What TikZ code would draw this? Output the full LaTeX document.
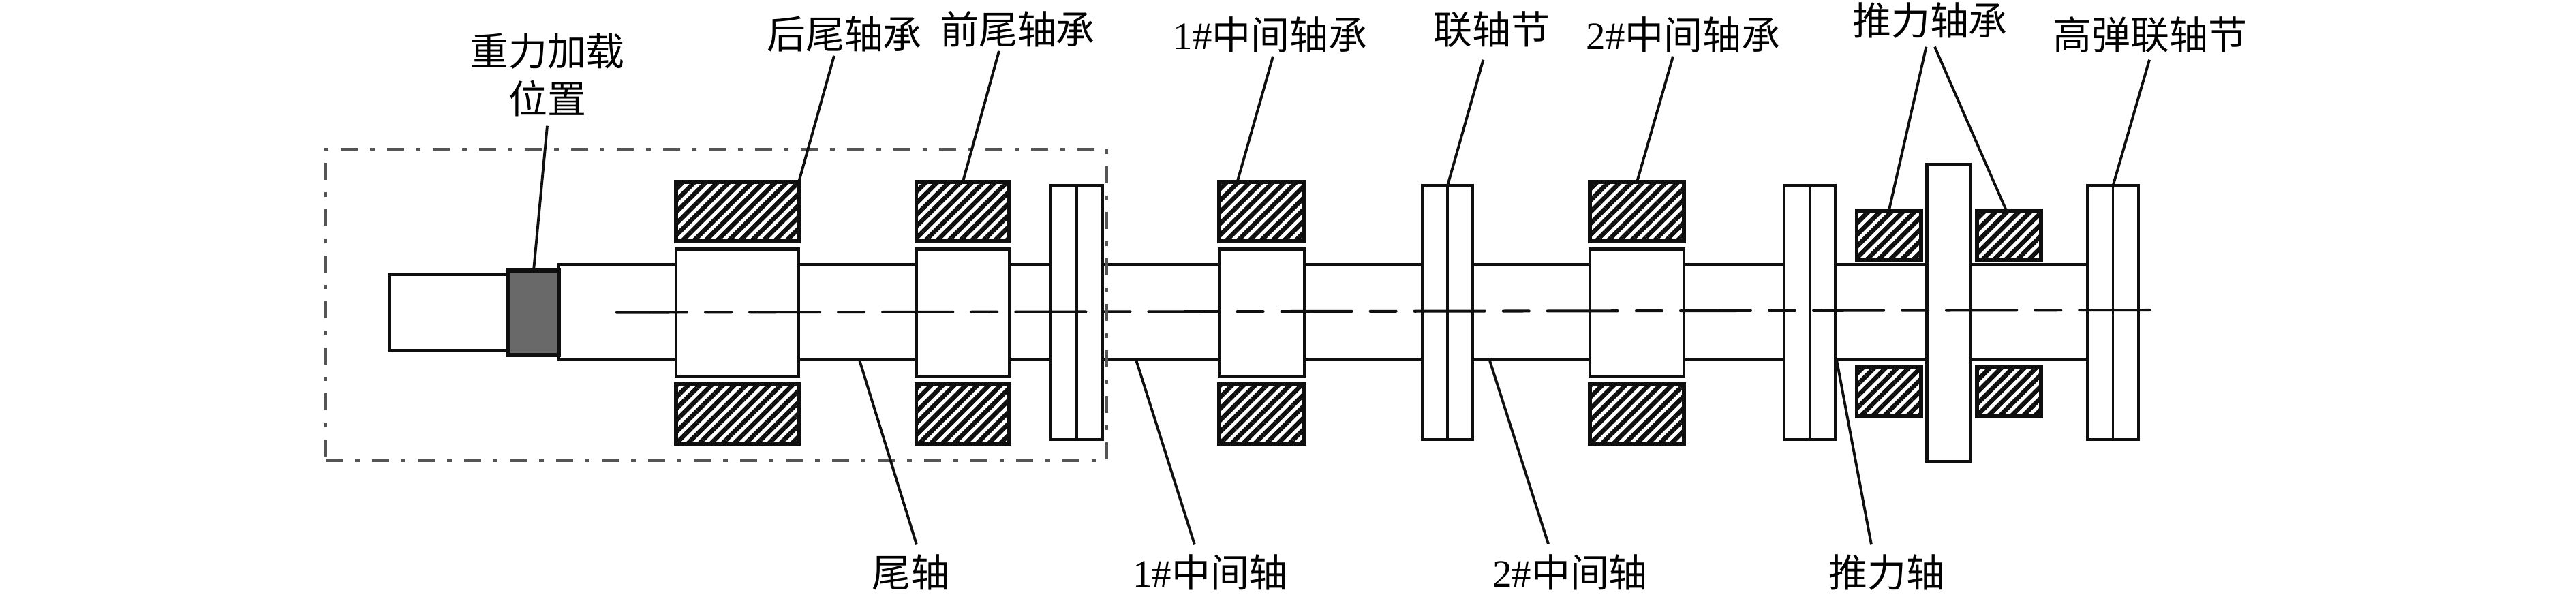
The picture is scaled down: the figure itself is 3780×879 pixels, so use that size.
\documentclass[tikz,border=0pt]{standalone}
\usepackage{xcolor}
\usepackage{fontspec}
\setmainfont{Liberation Serif}
\newfontfamily\cjk{Noto Sans CJK SC}
\usepackage{tikz}
\usetikzlibrary{patterns.meta}
\definecolor{mydark}{RGB}{15,15,15}
\definecolor{mygray}{RGB}{105,105,105}
\definecolor{myframe}{RGB}{85,85,85}
\tikzset{
  part/.style={rectangle, draw=mydark, fill=white, anchor=north west,
    inner sep=0pt, outer sep=0pt, line width=1.25pt},
  hatched/.style={part, line width=1.5pt,
    postaction={pattern={Lines[angle=45, distance=0.12cm, line width=0.066cm]}, pattern color=mydark}},
  label/.style={inner sep=0.04cm, text height=0.50cm, text depth=0.06cm, align=center,
    font=\fontsize{16.2}{19.8}\selectfont\cjk},
  leader/.style={line width=1.1pt, color=mydark},
  axisline/.style={line width=1.15pt, color=mydark, line cap=round,
    dash pattern=on 1.03cm off .27cm on .38cm off .27cm}
}

\begin{document}
\begin{tikzpicture}[x=0.01cm, y=-0.01cm]
  \useasboundingbox (0,0) rectangle (3780,879);

  % Shaft
  \node[part, minimum width=2.243cm*10, minimum height=1.395cm] (shaft) at (820,388.5) {};
  \node[part, minimum width=1.73cm, minimum height=1.115cm] (stub) at (572,402.5) {};
  \node[part, fill=mygray, line width=1.6pt, minimum width=0.74cm, minimum height=1.24cm] (load) at (746,397) {};

  % Rear bearing
  \node[part, minimum width=1.80cm, minimum height=1.865cm] (rearhub) at (992,365.5) {};
  \node[hatched, minimum width=1.80cm, minimum height=0.87cm] (rearup) at (992,267) {};
  \node[hatched, minimum width=1.80cm, minimum height=0.88cm] (reardown) at (992,563.5) {};

  % Front bearing
  \node[part, minimum width=1.365cm, minimum height=1.865cm] (fronthub) at (1344.5,365.5) {};
  \node[hatched, minimum width=1.365cm, minimum height=0.87cm] (frontup) at (1344.5,267) {};
  \node[hatched, minimum width=1.365cm, minimum height=0.88cm] (frontdown) at (1344.5,563.5) {};

  % Intermediate bearing 1
  \node[part, minimum width=1.25cm, minimum height=1.865cm] (midahub) at (1789,365.5) {};
  \node[hatched, minimum width=1.25cm, minimum height=0.87cm] (midaup) at (1789,267) {};
  \node[hatched, minimum width=1.25cm, minimum height=0.88cm] (midadown) at (1789,563.5) {};

  % Intermediate bearing 2
  \node[part, minimum width=1.38cm, minimum height=1.865cm] (midbhub) at (2333,365.5) {};
  \node[hatched, minimum width=1.38cm, minimum height=0.87cm] (midbup) at (2333,267) {};
  \node[hatched, minimum width=1.38cm, minimum height=0.88cm] (midbdown) at (2333,563.5) {};

  % Couplings
  \node[part, minimum width=0.755cm, minimum height=3.725cm] (cplga) at (1542,272.5) {};
  \node[part, minimum width=0.74cm, minimum height=3.725cm] (cplgb) at (2087,272.5) {};
  \node[part, minimum width=0.75cm, minimum height=3.725cm] (cplgc) at (2618,272.5) {};
  \node[part, minimum width=0.75cm, minimum height=3.725cm] (cplgd) at (3063,272.5) {};
  \draw[leader] (cplga.north) -- (cplga.south);
  \draw[leader] (cplgb.north) -- (cplgb.south);
  \draw[leader] (cplgc.north) -- (cplgc.south);
  \draw[leader] (cplgd.north) -- (cplgd.south);

  % Thrust collar and pads
  \node[part, minimum width=0.635cm, minimum height=4.35cm] (collar) at (2827.5,241.6) {};
  \node[hatched, minimum width=0.945cm, minimum height=0.72cm] (padaup) at (2724.5,309) {};
  \node[hatched, minimum width=0.94cm, minimum height=0.72cm] (padbup) at (2901,309) {};
  \node[hatched, minimum width=0.945cm, minimum height=0.72cm] (padadown) at (2724.5,539) {};
  \node[hatched, minimum width=0.94cm, minimum height=0.72cm] (padbdown) at (2901,539) {};

  % Centre line
  \coordinate (axisa) at (905,458.6);
  \coordinate (axisb) at (3161,455);
  \draw[axisline] (axisa) -- (axisb);

  % Dash-dot frame
  \node[part, draw=myframe, fill=none, line width=1.15pt, dash pattern=on .25cm off .18cm on .065cm off .18cm,
    minimum width=11.45cm, minimum height=4.57cm] (frame) at (478,219) {};

  % Labels
  \node[label] (lblload) at (803,144) {重力加载\\位置};
  \node[label] (lblrear) at (1239,49) {后尾轴承};
  \node[label] (lblfront) at (1493,42) {前尾轴承};
  \node[label] (lblmida) at (1864,50) {{\rmfamily 1\#}中间轴承};
  \node[label] (lblcplg) at (2189,42) {联轴节};
  \node[label] (lblmidb) at (2470,50) {{\rmfamily 2\#}中间轴承};
  \node[label] (lblpad) at (2832,29) {推力轴承};
  \node[label] (lblflex) at (3155,50) {高弹联轴节};
  \node[label] (lbltail) at (1336,839) {尾轴};
  \node[label] (lblshafta) at (1776,839) {{\rmfamily 1\#}中间轴};
  \node[label] (lblshaftb) at (2304,839) {{\rmfamily 2\#}中间轴};
  \node[label] (lblthrust) at (2769,839) {推力轴};

  % Leaders
  \coordinate (tailpt) at (1261,528);
  \coordinate (shaftapt) at (1667,528);
  \coordinate (shaftbpt) at (2185,526);
  \coordinate (thrustpt) at (2695,528);
  \draw[leader] ([yshift=-0.08cm]lblload.south) -- (load.north);
  \draw[leader] ([xshift=-0.15cm]lblrear.south) -- (rearup.north east);
  \draw[leader] ([xshift=-0.27cm]lblfront.south) -- (frontup.north);
  \draw[leader] ([xshift=0.04cm]lblmida.south) -- ([xshift=-0.36cm]midaup.north);
  \draw[leader] ([xshift=-0.125cm, yshift=-0.13cm]lblcplg.south) -- (cplgb.north);
  \draw[leader] ([xshift=-0.15cm]lblmidb.south) -- (midbup.north);
  \draw[leader] ([xshift=-0.055cm, yshift=-0.07cm]lblpad.south) -- (padaup.north);
  \draw[leader] ([xshift=0.07cm, yshift=-0.07cm]lblpad.south) -- ([xshift=-0.04cm]padbup.north);
  \draw[leader] ([xshift=-0.01cm, yshift=-0.05cm]lblflex.south) -- (cplgd.north);
  \draw[leader] (tailpt) -- ([xshift=0.09cm, yshift=0.07cm]lbltail.north);
  \draw[leader] (shaftapt) -- ([xshift=-0.23cm, yshift=0.07cm]lblshafta.north);
  \draw[leader] (shaftbpt) -- ([xshift=-0.32cm, yshift=0.08cm]lblshaftb.north);
  \draw[leader] (thrustpt) -- ([xshift=-0.23cm, yshift=0.07cm]lblthrust.north);
\end{tikzpicture}
\end{document}
